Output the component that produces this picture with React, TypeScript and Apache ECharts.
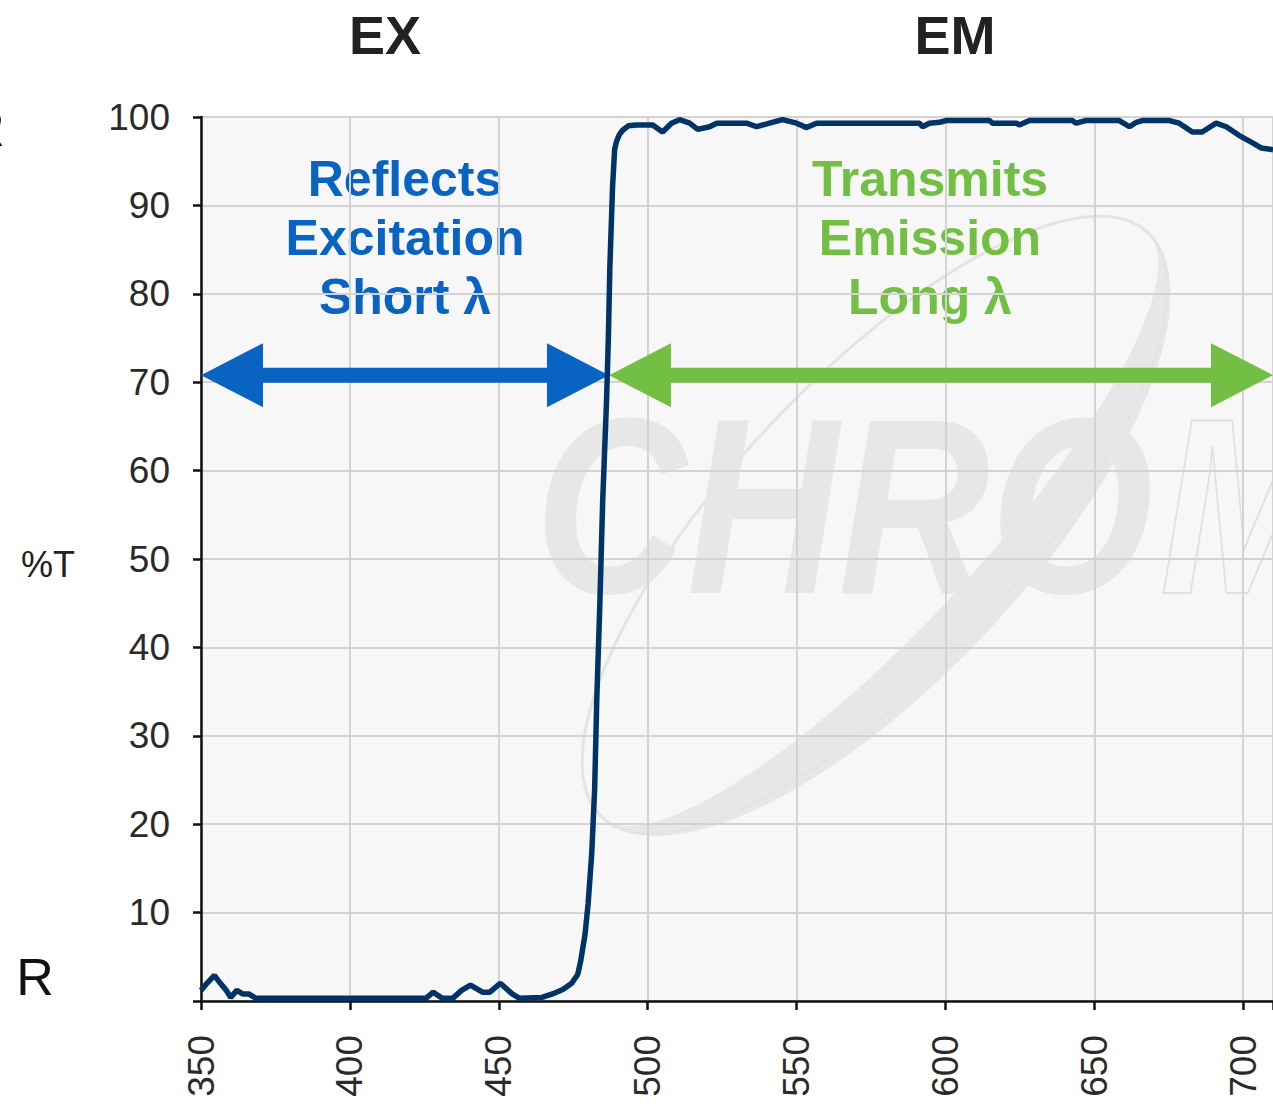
import React, { useEffect, useRef } from "react";
import * as echarts from "echarts";

// Dichroic mirror transmission spectrum (wavelength in nm, %T)
const wavelengthNm = [
  350, 352, 354.5, 356.5, 358.5, 360, 362, 364, 366, 368.5, 380, 400, 425.5, 428, 431, 434.5,
  437.5, 440.5, 444.5, 447, 450.5, 454.5, 457, 464.5, 468, 471.5, 474.5, 476.5, 477.5, 479,
  480, 481.2, 482.2, 482.9, 483.9, 484.9, 486.2, 486.8, 487.3, 488.2, 488.9, 489.5, 490.5,
  491.6, 493.5, 496.3, 501.7, 505, 508, 510.7, 514.1, 516.8, 520.8, 523.2, 533.2, 536.6,
  540.9, 545.3, 550, 553.4, 556.7, 591.3, 592.3, 594.6, 598, 600.3, 614.8, 615.8, 623.8,
  624.8, 628.2, 642.6, 643.9, 647, 658.4, 661.8, 664.1, 666.1, 675.2, 678.5, 682.9, 686.2,
  690.9, 694.3, 698.7, 703, 706, 710,
];
const transmissionPct = [
  1.2, 2.0, 2.9, 2.0, 1.2, 0.4, 1.2, 0.8, 0.8, 0.3, 0.3, 0.3, 0.3, 1.0, 0.3, 0.3,
  1.2, 1.8, 1.0, 1.0, 2.0, 0.8, 0.3, 0.4, 0.8, 1.3, 2.0, 3.0, 4.5, 7.6,
  11, 16.6, 24, 34, 44.5, 56.6, 68, 75, 83, 92, 96.3, 97.2, 98.0,
  98.5, 99.0, 99.1, 99.1, 98.3, 99.3, 99.7, 99.3, 98.6, 98.9, 99.3, 99.3, 98.9,
  99.3, 99.7, 99.3, 98.8, 99.3, 99.3, 98.9, 99.3, 99.4, 99.6, 99.6, 99.3, 99.3,
  99.1, 99.6, 99.6, 99.3, 99.6, 99.6, 98.9, 99.4, 99.6, 99.6, 99.3, 98.3, 98.3,
  99.3, 98.9, 97.9, 97.1, 96.5, 96.3,
];

// Axis settings
const xMin = 350;
const xMax = 710;
const xStep = 50;
const yMin = 0;
const yMax = 100;
const yStep = 10;

// Band arrows: [from nm, to nm, %T level]
const reflectBand = [350, 487, 70.8];
const transmitBand = [487, 710, 70.8];

const titleLeft = "EX";
const titleRight = "EM";
const reflectText = "Reflects\nExcitation\nShort λ";
const transmitText = "Transmits\nEmission\nLong λ";
const yAxisName = "%T";
const sideMark = "R";

const BLUE = "#0863c3";
const GREEN = "#73bf43";
const NAVY = "#003366";
const SANS = "'Liberation Sans', Arial, Helvetica, sans-serif";

echarts.graphic.registerShape(
  "swoosh",
  echarts.graphic.extendPath(
    "M -400 0 A 400 155 0 0 0 400 0 A 400 105 0 0 1 -400 0 Z",
    {}
  )
);

export default function App() {
  const ref = useRef<HTMLDivElement>(null);

  useEffect(() => {
    const chart = echarts.init(ref.current!, null, { renderer: "svg" });

    const arrowItem = (params: any, api: any) => {
      const x1 = api.value(0);
      const x2 = api.value(1);
      const lvl = api.value(2);
      const a = api.coord([x1, lvl]);
      const b = api.coord([x2, lvl]);
      const y = a[1];
      const hl = 62; // head length
      const hw = 32; // head half-width
      const sw = 7.5; // shaft half-width
      const color = params.dataIndex === 0 ? BLUE : GREEN;
      return {
        type: "polygon",
        shape: {
          points: [
            [a[0], y],
            [a[0] + hl, y - hw],
            [a[0] + hl, y - sw],
            [b[0] - hl, y - sw],
            [b[0] - hl, y - hw],
            [b[0], y],
            [b[0] - hl, y + hw],
            [b[0] - hl, y + sw],
            [a[0] + hl, y + sw],
            [a[0] + hl, y + hw],
          ],
        },
        style: { fill: color },
      };
    };

    chart.setOption({
      animation: false,
      backgroundColor: "#ffffff",
      grid: { left: 201, right: 0, top: 117, bottom: 107, containLabel: false },
      xAxis: {
        type: "value",
        min: xMin,
        max: xMax,
        interval: xStep,
        axisLine: { show: true, lineStyle: { color: "#111", width: 2.5 } },
        axisTick: { show: true, length: 9, lineStyle: { color: "#111", width: 2.5 } },
        axisLabel: {
          rotate: 90,
          margin: 34,
          fontSize: 37,
          fontFamily: SANS,
          color: "#2a2a2a",
          formatter: (v: number) => (v % xStep === 0 ? String(v) : ""),
        },
        splitLine: { show: true, lineStyle: { color: "#d3d3d3", width: 2 } },
      },
      yAxis: {
        type: "value",
        min: yMin,
        max: yMax,
        interval: yStep,
        axisLine: { show: true, lineStyle: { color: "#111", width: 2.5 } },
        axisTick: { show: true, length: 8, lineStyle: { color: "#111", width: 2.5 } },
        axisLabel: {
          margin: 31,
          fontSize: 37,
          fontFamily: SANS,
          color: "#2a2a2a",
          formatter: (v: number) => (v === 0 ? "" : String(v)),
        },
        splitLine: { show: true, lineStyle: { color: "#d3d3d3", width: 2 } },
      },
      graphic: [
        {
          type: "rect",
          z: -10,
          silent: true,
          shape: { x: 201, y: 117, width: 1072, height: 884 },
          style: { fill: "#f7f7f7" },
        },
        {
          type: "swoosh",
          z: -5,
          silent: true,
          x: 875,
          y: 525,
          rotation: 0.82,
          style: { fill: "#e7e7e7" },
        },
        {
          type: "ellipse",
          z: -5,
          silent: true,
          x: 875,
          y: 525,
          rotation: 0.82,
          shape: { cx: 0, cy: 0, rx: 400, ry: 145 },
          style: { fill: "none", stroke: "#e4e4e4", lineWidth: 3 },
        },
        {
          type: "text",
          z: -4,
          silent: true,
          x: 535,
          y: 631,
          scaleX: 0.84,
          style: {
            text: "CHRO",
            font: `italic 900 250px ${SANS}`,
            fill: "#e7e7e7",
            textVerticalAlign: "bottom",
          },
        },
        {
          type: "text",
          z: -4,
          silent: true,
          x: 1160,
          y: 631,
          scaleX: 0.84,
          style: {
            text: "MA",
            font: `italic 900 250px ${SANS}`,
            fill: "rgba(0,0,0,0)",
            stroke: "#e0e0e0",
            lineWidth: 2,
            textVerticalAlign: "bottom",
          },
        },
        {
          type: "text",
          x: 385,
          y: 35,
          style: {
            text: titleLeft,
            font: `bold 54px ${SANS}`,
            fill: "#222",
            textAlign: "center",
            textVerticalAlign: "middle",
          },
        },
        {
          type: "text",
          x: 955,
          y: 35,
          style: {
            text: titleRight,
            font: `bold 54px ${SANS}`,
            fill: "#222",
            textAlign: "center",
            textVerticalAlign: "middle",
          },
        },
        {
          type: "text",
          x: 405,
          y: 238,
          style: {
            text: reflectText,
            font: `bold 50px ${SANS}`,
            lineHeight: 59,
            fill: BLUE,
            textAlign: "center",
            textVerticalAlign: "middle",
          },
        },
        {
          type: "text",
          x: 930,
          y: 238,
          style: {
            text: transmitText,
            font: `bold 50px ${SANS}`,
            lineHeight: 59,
            fill: GREEN,
            textAlign: "center",
            textVerticalAlign: "middle",
          },
        },
        {
          type: "text",
          x: 48,
          y: 564,
          style: {
            text: yAxisName,
            font: `36px ${SANS}`,
            fill: "#222",
            textAlign: "center",
            textVerticalAlign: "middle",
          },
        },
        {
          type: "text",
          x: 35,
          y: 977,
          style: {
            text: sideMark,
            font: `52px ${SANS}`,
            fill: "#111",
            textAlign: "center",
            textVerticalAlign: "middle",
          },
        },
        {
          type: "text",
          x: -14,
          y: 128,
          style: {
            text: sideMark,
            font: `52px ${SANS}`,
            fill: "#111",
            textAlign: "center",
            textVerticalAlign: "middle",
          },
        },
      ],
      series: [
        {
          type: "custom",
          z: 1,
          silent: true,
          renderItem: arrowItem,
          encode: { x: [0, 1], y: 2 },
          data: [reflectBand, transmitBand],
        },
        {
          type: "line",
          z: 3,
          silent: true,
          showSymbol: false,
          lineStyle: { color: NAVY, width: 5.5 },
          data: wavelengthNm.map((w, i) => [w, transmissionPct[i]]),
        },
      ],
    });

    return () => chart.dispose();
  }, []);

  return (
    <div
      ref={ref}
      style={{ position: "absolute", left: 0, top: 0, width: 1273, height: 1108 }}
    />
  );
}
